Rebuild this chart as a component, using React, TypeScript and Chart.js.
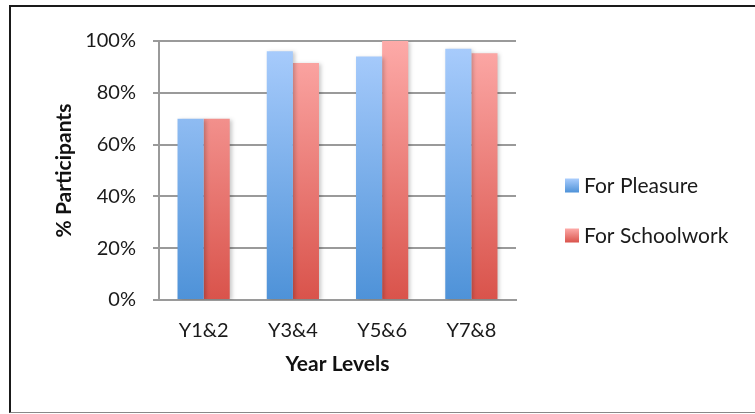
import React, { useEffect, useRef } from "react";
import { Chart, registerables } from "chart.js";

Chart.register(...registerables);

const categories = ["Y1&2", "Y3&4", "Y5&6", "Y7&8"];
const pleasure = [70, 96, 94, 97];
const schoolwork = [70, 91.5, 100, 95.3];
const seriesNames = ["For Pleasure", "For Schoolwork"];
const yTicks = [0, 20, 40, 60, 80, 100];

const blueTop = "#aacdfd";
const blueBottom = "#4e92d8";
const redTop = "#fdaaa8";
const redBottom = "#d9534b";

function gradient(ctx: any, area: any, top: string, bottom: string) {
  const g = ctx.createLinearGradient(0, area.top, 0, area.bottom);
  g.addColorStop(0, top);
  g.addColorStop(1, bottom);
  return g;
}

const FONT = "Lato, 'Open Sans', sans-serif";

export default function App() {
  const ref = useRef<HTMLCanvasElement>(null);
  useEffect(() => {
    const canvas = ref.current!;
    const shadowPlugin = {
      id: "barShadow",
      beforeDatasetDraw(chart: any) {
        const c = chart.ctx;
        c.save();
        c.shadowColor = "rgba(0,0,0,0.22)";
        c.shadowBlur = 4;
        c.shadowOffsetX = 2;
        c.shadowOffsetY = 1;
      },
      afterDatasetDraw(chart: any) {
        chart.ctx.restore();
      },
    };
    const legendPlugin = {
      id: "customLegend",
      afterDraw(chart: any) {
        const c = chart.ctx;
        const area = chart.chartArea;
        const colors = [
          [blueTop, blueBottom],
          [redTop, redBottom],
        ];
        const x0 = area.right + 49;
        const yc = (area.top + area.bottom) / 2 + 40;
        const gap = 50;
        c.save();
        seriesNames.forEach((name, i) => {
          const cy = yc - gap / 2 + i * gap;
          const g = c.createLinearGradient(0, cy - 7, 0, cy + 7);
          g.addColorStop(0, colors[i][0]);
          g.addColorStop(1, colors[i][1]);
          c.fillStyle = g;
          c.fillRect(x0, cy - 7, 14, 14);
          c.fillStyle = "#1a1a1a";
          c.font = `21px ${FONT}`;
          c.textBaseline = "middle";
          c.textAlign = "left";
          c.fillText(name, x0 + 19, cy + 1);
        });
        c.restore();
      },
    };
    const chart = new Chart(canvas, {
      type: "bar",
      data: {
        labels: categories,
        datasets: [
          {
            label: seriesNames[0],
            data: pleasure,
            backgroundColor: (ctx: any) => {
              const area = ctx.chart.chartArea;
              if (!area) return blueBottom;
              return gradient(ctx.chart.ctx, area, blueTop, blueBottom);
            },
            categoryPercentage: 0.585,
            barPercentage: 1,
          },
          {
            label: seriesNames[1],
            data: schoolwork,
            backgroundColor: (ctx: any) => {
              const area = ctx.chart.chartArea;
              if (!area) return redBottom;
              return gradient(ctx.chart.ctx, area, redTop, redBottom);
            },
            categoryPercentage: 0.585,
            barPercentage: 1,
          },
        ],
      },
      options: {
        responsive: false,
        animation: false,
        layout: { padding: { left: 48, top: 41, right: 239, bottom: 33 } },
        plugins: {
          legend: { display: false },
          tooltip: { enabled: false },
        },
        scales: {
          x: {
            grid: { display: false },
            border: { display: true, color: "#9a9a9a", width: 2 },
            ticks: { color: "#1a1a1a", font: { family: FONT, size: 20 }, padding: 11 },
            title: {
              display: true,
              text: "Year Levels",
              color: "#111",
              font: { family: FONT, size: 21, weight: "bold" },
              padding: { top: 4, bottom: 4 },
            },
            afterFit: (s: any) => {
              s.height = 81;
            },
          },
          y: {
            min: 0,
            max: 100,
            afterBuildTicks: (s: any) => {
              s.ticks = yTicks.map((v) => ({ value: v }));
            },
            grid: { color: "#9a9a9a", lineWidth: 2, tickLength: 6, drawTicks: true },
            border: { display: true, color: "#9a9a9a", width: 2 },
            ticks: {
              color: "#1a1a1a",
              font: { family: FONT, size: 20 },
              padding: 17,
              callback: (v: any) => `${v}%`,
            },
            title: {
              display: true,
              text: "% Participants",
              color: "#111",
              font: { family: FONT, size: 21, weight: "bold" },
              padding: { top: 4, bottom: 4 },
            },
            afterFit: (s: any) => {
              s.width = 111;
            },
          },
        },
      },
      plugins: [shadowPlugin, legendPlugin],
    } as any);
    return () => chart.destroy();
  }, []);
  return (
    <div style={{ position: "fixed", left: 0, top: 0, width: 755, height: 414, background: "#fff" }}>
      <canvas ref={ref} width={755} height={414} style={{ position: "absolute", left: 0, top: 0 }} />
      <div
        style={{
          position: "absolute",
          left: 9,
          top: 5,
          width: 760,
          height: 408,
          borderLeft: "2px solid #1a1a1a",
          borderTop: "2px solid #1a1a1a",
          borderBottom: "1px solid #888",
          boxSizing: "border-box",
          pointerEvents: "none",
        }}
      />
    </div>
  );
}
